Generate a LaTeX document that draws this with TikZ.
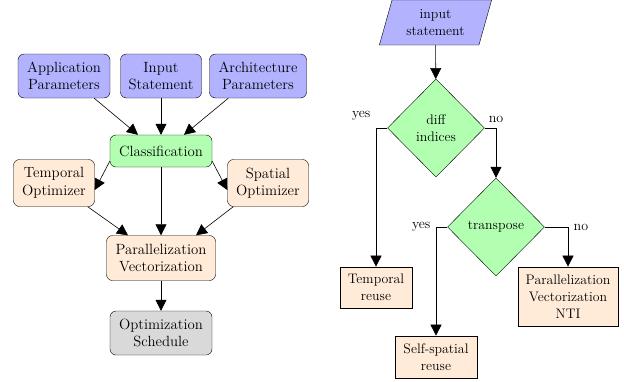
\documentclass[tikz,border=0pt]{standalone}
\usepackage{fontspec}
\usetikzlibrary{arrows.meta,shapes.geometric}
\definecolor{cblue}{RGB}{178,178,255}
\definecolor{cgreen}{RGB}{178,255,178}
\definecolor{corange}{RGB}{255,235,215}
\definecolor{cgray}{RGB}{217,217,217}
\tikzset{
  rbox/.style={draw, rounded corners=6pt, align=center, inner sep=2pt, font=\fontsize{14.8}{17.5}\selectfont},
  sbox/.style={draw, line width=0.7pt, align=center, inner sep=2pt, font=\fontsize{13.8}{17}\selectfont},
  dia/.style={draw, diamond, fill=cgreen, align=center, inner sep=0pt, minimum width=97pt, minimum height=98pt, font=\fontsize{13.8}{17}\selectfont},
  arr/.style={-{Triangle[length=11pt,width=11pt]}, line width=0.6pt},
  lab/.style={font=\fontsize{14}{16}\selectfont}
}
\begin{document}
\begin{tikzpicture}[x=1pt,y=-1pt]
\useasboundingbox (0,0) rectangle (624,381);
% left graph
\node[rbox, fill=cblue, minimum width=92pt, minimum height=44pt] (app) at (64,76) {Application\\Parameters};
\node[rbox, fill=cblue, minimum width=81pt, minimum height=44pt] (inst) at (161,76) {Input\\Statement};
\node[rbox, fill=cblue, minimum width=97pt, minimum height=44pt] (arch) at (258,76) {Architecture\\Parameters};
\node[rbox, fill=cgreen, minimum width=102pt, minimum height=32pt] (cls) at (161,151) {Classification};
\node[rbox, fill=corange, minimum width=81pt, minimum height=47pt] (temp) at (54,183) {Temporal\\Optimizer};
\node[rbox, fill=corange, minimum width=81pt, minimum height=47pt] (spat) at (268,183) {Spatial\\Optimizer};
\node[rbox, fill=corange, minimum width=109pt, minimum height=45pt] (par) at (161,258) {Parallelization\\Vectorization};
\node[rbox, fill=cgray, minimum width=102pt, minimum height=44pt] (sched) at (161,333) {Optimization\\Schedule};
\draw[arr] (app.south east) ++(-16,0) coordinate (a1) -- ([xshift=-23pt]cls.north);
\draw[arr] (inst) -- (cls);
\draw[arr] (arch.south west) ++(19,0) coordinate (a2) -- ([xshift=23pt]cls.north);
\draw[arr] (cls.south west) ++(0,-6) coordinate (c1) -- ([yshift=-7pt]temp.east);
\draw[arr] (cls.south east) ++(0,-6) coordinate (c2) -- ([yshift=-7pt]spat.west);
\draw[arr] (cls) -- (par);
\draw[arr] (temp.south east) ++(-7,0) coordinate (t1) -- ([xshift=-33pt]par.north);
\draw[arr] (spat.south west) ++(6,0) coordinate (s1) -- ([xshift=35pt]par.north);
\draw[arr] (par) -- (sched);
% right flowchart
\node[draw, trapezium, trapezium stretches=true, trapezium left angle=72, trapezium right angle=108, fill=cblue, minimum width=113pt, minimum height=45pt, align=center, inner sep=0pt, font=\fontsize{13.8}{17}\selectfont] (inp) at (435.5,22.5) {input\\statement};
\node[dia] (diff) at (436,128) {diff\\indices};
\node[dia] (tr) at (496,227) {transpose};
\node[sbox, fill=corange, minimum width=72pt, minimum height=41pt] (treuse) at (376,287.5) {Temporal\\reuse};
\node[sbox, fill=corange, minimum width=82pt, minimum height=42pt] (sreuse) at (436,357) {Self-spatial\\reuse};
\node[sbox, fill=corange, minimum width=100pt, minimum height=59pt] (pvn) at (568,296.5) {Parallelization\\Vectorization\\NTI};
\draw[arr] (inp) -- (diff);
\draw[arr] (diff.west) -| node[pos=0.5, lab, above left, xshift=-2pt, yshift=4pt] {yes} (treuse.north);
\draw[arr] (diff.east) -| node[pos=0.5, lab, above, yshift=2pt] {no} (tr.north);
\draw[arr] (tr.west) -| node[pos=0.5, lab, left, xshift=-2pt] {yes} (sreuse.north);
\draw[arr] (tr.east) -| node[pos=0.5, lab, right, xshift=2pt] {no} (pvn.north);
\end{tikzpicture}
\end{document}
